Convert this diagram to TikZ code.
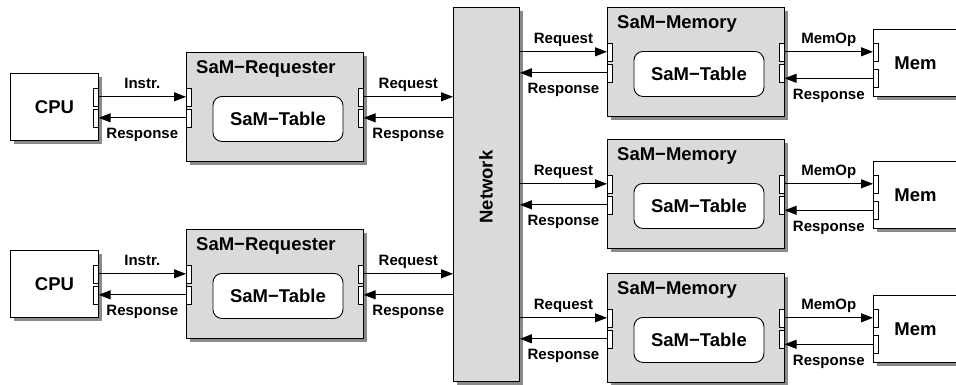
\documentclass[tikz,border=0pt]{standalone}
\usepackage{fontspec}
\setmainfont{Liberation Sans}
\usetikzlibrary{shadows,arrows.meta}
\definecolor{boxgray}{HTML}{DADADA}
\definecolor{shadowgray}{HTML}{8A8A8A}

% one SaM unit: grey block, title, inner table and four ports
% #1 name, #2 left x, #3 top y, #4 title
\newcommand\samunit[4]{%
  \node[unitbox, minimum width=177, minimum height=109] (#1) at (#2,#3) {};
  \node[blocktitle] (#1-t) at (#2+10,#3+21) {#4};
  \node[samtable] (#1-tab) at (#2+26.5,#3+44) {SaM−Table};
  \node[portbox] (#1-l1) at (#2,#3+35.5) {};
  \node[portbox] (#1-l2) at (#2,#3+56.5) {};
  \node[portbox] (#1-r1) at (#2+172,#3+35.5) {};
  \node[portbox] (#1-r2) at (#2+172,#3+56.5) {};
}

\begin{document}
\begin{tikzpicture}[x=1pt,y=-1pt,
  shadowed/.style={drop shadow={shadow xshift=3.5pt, shadow yshift=-3.5pt,
      fill=shadowgray, opacity=1}},
  unitbox/.style={draw, line width=0.9pt, fill=boxgray, inner sep=0,
      anchor=north west, shadowed},
  extbox/.style={draw, line width=0.9pt, fill=white, inner sep=0,
      anchor=north west, shadowed,
      font=\fontsize{18.5}{20}\selectfont\bfseries},
  blocktitle/.style={anchor=base west, inner sep=0,
      font=\fontsize{18.5}{20}\selectfont\bfseries},
  samtable/.style={draw, line width=0.9pt, fill=white, rounded corners=9pt,
      inner sep=0, anchor=north west, minimum width=130, minimum height=45,
      font=\fontsize{18.5}{20}\selectfont\bfseries},
  portbox/.style={draw, line width=0.6pt, fill=white, inner sep=0,
      anchor=north west, minimum width=5, minimum height=18},
  arr/.style={-{Triangle[length=12pt,width=9pt]}, line width=1pt},
  lbl/.style={inner sep=0, font=\fontsize{15}{17}\selectfont\bfseries},
  above lbl/.style={lbl, pos=0.5, anchor=base, yshift=8pt},
  below lbl/.style={lbl, pos=0.5, anchor=base, yshift=-21pt},
]
\useasboundingbox (0,0) rectangle (956,384);
\clip (0,0) rectangle (956,384);

% network
\node[unitbox, minimum width=66, minimum height=374] (net) at (453,7) {};
\node[rotate=90, font=\fontsize{18.5}{20}\selectfont\bfseries] (net-t) at (486,187) {Network};

% requester side
\foreach \n/\top in {1/52, 2/229} {
  \samunit{req\n}{186}{\top}{SaM−Requester}
  \node[extbox, minimum width=88, minimum height=67] (cpu\n) at (10,\top+21) {CPU};
  \node[portbox] (cpu\n-p1) at (93,\top+35.5) {};
  \node[portbox] (cpu\n-p2) at (93,\top+56.5) {};
  \draw[arr] (cpu\n-p1.east) -- node[above lbl] (ins\n) {Instr.} (req\n-l1.west);
  \draw[arr] (req\n-l2.west) -- node[below lbl] (cres\n) {Response} (cpu\n-p2.east);
  \draw[arr] (req\n-r1.east) -- node[above lbl] (rq\n) {Request} (req\n-r1.east -| net.west);
  \draw[arr] (req\n-r2.east -| net.west) -- node[below lbl] (rr\n) {Response} (req\n-r2.east);
}

% memory side
\foreach \n/\top in {1/7, 2/139, 3/273} {
  \samunit{sm\n}{607}{\top}{SaM−Memory}
  \node[extbox, minimum width=84, minimum height=67] (mem\n) at (873,\top+22) {Mem};
  \node[portbox] (mem\n-p1) at (873,\top+36) {};
  \node[portbox] (mem\n-p2) at (873,\top+62) {};
  \draw[arr] (net.east |- sm\n-l1.west) -- node[above lbl] (mq\n) {Request} (sm\n-l1.west);
  \draw[arr] (sm\n-l2.west) -- node[below lbl] (mr\n) {Response} (net.east |- sm\n-l2.west);
  \draw[arr] (sm\n-r1.east) -- node[above lbl] (op\n) {MemOp} (sm\n-r1.east -| mem\n-p1.west);
  \draw[arr] (mem\n-p2.west) -- node[below lbl] (er\n) {Response} (mem\n-p2.west -| sm\n-r2.east);
}
\end{tikzpicture}
\end{document}
